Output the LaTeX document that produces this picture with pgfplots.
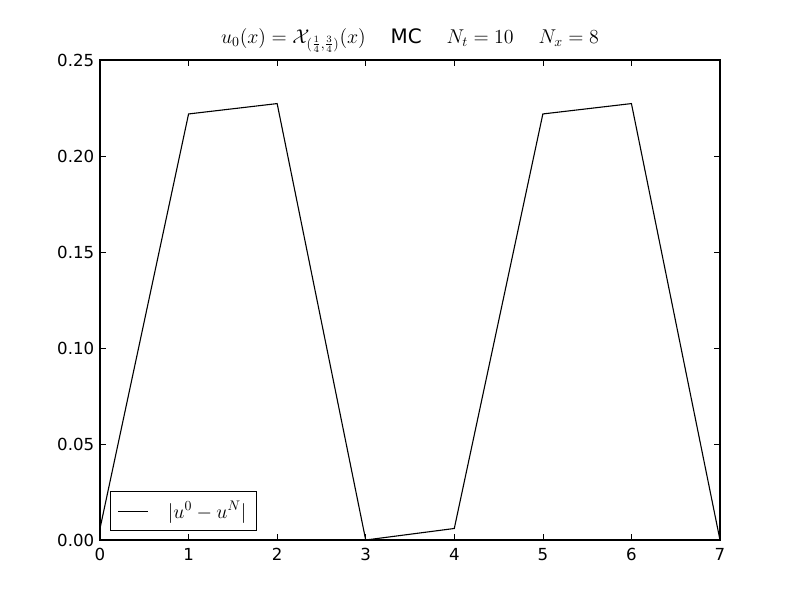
\documentclass[border=0pt]{standalone}
\usepackage{pgfplots}
\pgfplotsset{compat=1.18}
\usepackage{fontspec}
\setmainfont{DejaVu Sans}
\newcommand{\mymath}[1]{{\fontsize{14.4pt}{16pt}\selectfont$#1$}}
\begin{document}
\fontsize{12pt}{14pt}\selectfont
\begin{tikzpicture}
\begin{axis}[
  scale only axis,
  width=6.2in, height=4.8in,
  xmin=0, xmax=7, ymin=0, ymax=0.25,
  xtick={0,1,2,3,4,5,6,7},
  ytick={0,0.05,0.10,0.15,0.20,0.25},
  yticklabel style={/pgf/number format/.cd,fixed,fixed zerofill,precision=2},
  /pgf/number format/assume math mode=true,
  tick align=inside,
  tick pos=both,
  major tick length=4pt,
  tick style={black, line width=0.5pt},
  axis line style={black, line width=0.8pt},
  ticklabel style={font=\fontsize{12pt}{14pt}\selectfont},
  xticklabel style={yshift=-2pt},
  title={$u_0(x) = \mathcal{X}_{(\frac{1}{4},\frac{3}{4})}(x)$\hspace{18pt}MC\hspace{18pt}$N_t = 10$\hspace{18pt}$N_x = 8$},
  title style={font=\fontsize{14.4pt}{16pt}\selectfont, yshift=-5pt},
  legend style={at={(0.016,0.019)}, anchor=south west, draw=black, line width=0.8pt, inner xsep=5pt, inner ysep=5pt, font=\fontsize{12pt}{14pt}\selectfont, legend cell align=left},
  legend image code/.code={\draw[black, line width=0.8pt] (0in,0in) -- (0.3in,0in);},
]
\addplot[black, line width=0.8pt] coordinates {
(0,0.006) (1,0.2219) (2,0.2273) (3,0.0) (4,0.006) (5,0.2219) (6,0.2273) (7,0.0)
};
\addlegendentry{\hspace{12pt}\mymath{|u^0-u^N|}}
\end{axis}
\path (current axis.south west) ++(-1in,-0.6in) coordinate (bl);
\path (current axis.north east) ++(0.8in,0.6in) coordinate (tr);
\useasboundingbox (bl) rectangle (tr);
\end{tikzpicture}
\end{document}
